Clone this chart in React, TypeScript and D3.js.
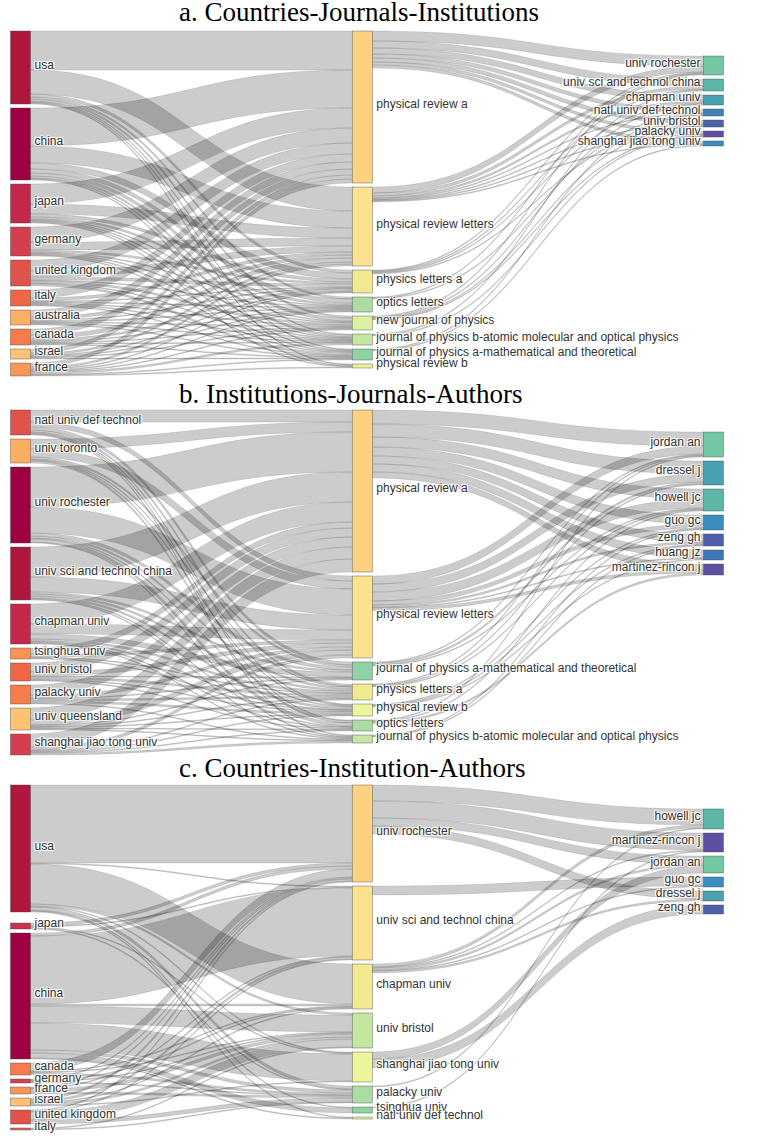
import React from "react";
import * as d3 from "d3";

// ---------------- Panel a: Countries - Journals - Institutions ----------------
const A_COUNTRIES = ["usa", "china", "japan", "germany", "united kingdom", "italy", "australia", "canada", "israel", "france"];
const A_JOURNALS = [
  "physical review a",
  "physical review letters",
  "physics letters a",
  "optics letters",
  "new journal of physics",
  "journal of physics b-atomic molecular and optical physics",
  "journal of physics a-mathematical and theoretical",
  "physical review b",
];
const A_INSTITUTIONS = ["univ rochester", "univ sci and technol china", "chapman univ", "natl univ def technol", "univ bristol", "palacky univ", "shanghai jiao tong univ"];
// rows: countries, cols: journals
const A_COUNTRY_JOURNAL = [
  [39, 24, 3, 2, 2, 1, 1, 1],
  [38, 17, 6, 4, 3, 2, 1, 1],
  [20, 10, 3, 2, 1, 1, 1, 1],
  [15, 8, 2, 1, 1, 1, 1, 0],
  [11, 6, 3, 1, 2, 1, 2, 0],
  [8, 3, 1, 1, 1, 1, 1, 0],
  [7, 3, 1, 1, 1, 1, 1, 0],
  [6, 4, 2, 1, 1, 1, 1, 0],
  [4, 2, 1, 1, 1, 0, 1, 0],
  [4, 2, 1, 1, 1, 2, 1, 1],
];
// rows: journals, cols: institutions
const A_JOURNAL_INST = [
  [10, 7, 6, 4, 4, 3, 3],
  [6, 3, 2, 1, 1, 1, 1],
  [1, 1, 1, 0, 1, 0, 0],
  [1, 0, 0, 1, 0, 0, 0],
  [1, 0, 1, 0, 1, 1, 0],
  [0, 1, 0, 0, 0, 1, 0],
  [0, 0, 0, 1, 0, 0, 1],
  [0, 0, 0, 0, 0, 0, 0],
];

// ---------------- Panel b: Institutions - Journals - Authors ----------------
const B_INSTITUTIONS = ["natl univ def technol", "univ toronto", "univ rochester", "univ sci and technol china", "chapman univ", "tsinghua univ", "univ bristol", "palacky univ", "univ queensland", "shanghai jiao tong univ"];
const B_JOURNALS = [
  "physical review a",
  "physical review letters",
  "journal of physics a-mathematical and theoretical",
  "physics letters a",
  "physical review b",
  "optics letters",
  "journal of physics b-atomic molecular and optical physics",
];
const B_AUTHORS = ["jordan an", "dressel j", "howell jc", "guo gc", "zeng gh", "huang jz", "martinez-rincon j"];
const B_INST_JOURNAL = [
  [12, 5, 3, 2, 1, 1, 1],
  [10, 8, 2, 1, 1, 2, 0],
  [40, 26, 3, 2, 1, 3, 1],
  [30, 15, 2, 2, 2, 1, 1],
  [20, 10, 5, 2, 1, 1, 1],
  [6, 3, 0, 1, 1, 0, 0],
  [9, 4, 1, 2, 1, 1, 0],
  [10, 3, 1, 2, 2, 0, 1],
  [12, 5, 1, 1, 1, 1, 1],
  [13, 3, 0, 1, 1, 1, 2],
];
const B_JOURNAL_AUTHOR = [
  [14, 13, 10, 9, 8, 8, 6],
  [8, 8, 9, 4, 2, 1, 3],
  [1, 2, 1, 0, 0, 0, 0],
  [1, 1, 1, 0, 0, 0, 0],
  [0, 0, 0, 1, 1, 1, 0],
  [1, 0, 1, 0, 0, 0, 2],
  [0, 0, 0, 1, 1, 0, 0],
];

// ---------------- Panel c: Countries - Institution - Authors ----------------
const C_COUNTRIES = ["usa", "japan", "china", "canada", "germany", "france", "israel", "united kingdom", "italy"];
const C_INSTITUTIONS = ["univ rochester", "univ sci and technol china", "chapman univ", "univ bristol", "shanghai jiao tong univ", "palacky univ", "tsinghua univ", "natl univ def technol"];
const C_AUTHORS = ["howell jc", "martinez-rincon j", "jordan an", "guo gc", "dressel j", "zeng gh"];
const C_COUNTRY_INST = [
  [78, 1, 40, 2, 1, 3, 1, 1],
  [3, 1, 0, 0, 1, 1, 0, 0],
  [3, 68, 2, 17, 27, 3, 5, 1],
  [8, 0, 1, 1, 0, 2, 0, 0],
  [1, 0, 1, 1, 0, 1, 0, 0],
  [1, 1, 0, 3, 0, 2, 0, 0],
  [2, 2, 1, 2, 1, 0, 0, 0],
  [1, 1, 0, 8, 0, 4, 0, 0],
  [0, 0, 0, 1, 0, 1, 0, 0],
];
const C_INST_AUTHOR = [
  [16, 17, 8, 0, 8, 0],
  [0, 0, 0, 9, 0, 0],
  [3, 1, 2, 1, 2, 0],
  [0, 0, 0, 0, 0, 0],
  [0, 0, 7, 0, 0, 9],
  [1, 0, 0, 0, 0, 0],
  [0, 1, 0, 0, 0, 0],
  [0, 0, 0, 0, 0, 0],
];

// ---------------- Colours ----------------
const A_COUNTRY_COLORS = ["#b0173f", "#9e0142", "#c3284a", "#d53e4f", "#e0524a", "#f06645", "#fdb062", "#f67c4a", "#fdc374", "#f99757"];
const A_JOURNAL_COLORS = ["#fdd17e", "#fae28f", "#f1e98e", "#aadca4", "#dcf09d", "#c4e7a0", "#8fd2a4", "#ecf39a"];
const A_INST_COLORS = ["#74c7a4", "#5db7a9", "#48a0b2", "#3e7fb8", "#4b63aa", "#5e4fa2", "#3a8fba"];
const B_INST_COLORS = ["#e0524a", "#fdae61", "#9e0142", "#b0173f", "#c3284a", "#f99456", "#ef6646", "#f67c4a", "#fdc273", "#d53e4f"];
const B_JOURNAL_COLORS = ["#fdd17e", "#fae28f", "#8fd2a4", "#f1e98e", "#ecf59a", "#aadca4", "#c4e7a0"];
const B_AUTHOR_COLORS = ["#74c7a4", "#48a0b2", "#5db7a9", "#3990c0", "#4e5ea8", "#3c78b8", "#5e4fa2"];
const C_COUNTRY_COLORS = ["#b0173f", "#cb334c", "#9e0142", "#f67c4a", "#d83f4e", "#f99456", "#fdbf71", "#e0524a", "#e8624c"];
const C_INST_COLORS = ["#fdd17e", "#fae28f", "#f1e98e", "#c4e7a0", "#ecf59a", "#aadca4", "#8fd2a4", "#ecf59a"];
const C_AUTHOR_COLORS = ["#5db7a9", "#5e4fa2", "#74c7a4", "#3990c0", "#48a0b2", "#4e5ea8"];

// ---------------- Panel definitions ----------------
type PanelDef = {
  title: string;
  columns: string[][];
  colors: string[][];
  matrices: number[][][];
  top: number;
  titleY: number;
  colOffsets: number[];
  extraGap: Record<string, number>;
};

const PANELS: PanelDef[] = [
  {
    title: "a. Countries-Journals-Institutions",
    columns: [A_COUNTRIES, A_JOURNALS, A_INSTITUTIONS],
    colors: [A_COUNTRY_COLORS, A_JOURNAL_COLORS, A_INST_COLORS],
    matrices: [A_COUNTRY_JOURNAL, A_JOURNAL_INST],
    top: 31,
    titleY: 21,
    colOffsets: [0, 0, 25],
    extraGap: {},
  },
  {
    title: "b. Institutions-Journals-Authors",
    columns: [B_INSTITUTIONS, B_JOURNALS, B_AUTHORS],
    colors: [B_INST_COLORS, B_JOURNAL_COLORS, B_AUTHOR_COLORS],
    matrices: [B_INST_JOURNAL, B_JOURNAL_AUTHOR],
    top: 410,
    titleY: 403,
    colOffsets: [0, 0, 22],
    extraGap: {},
  },
  {
    title: "c. Countries-Institution-Authors",
    columns: [C_COUNTRIES, C_INSTITUTIONS, C_AUTHORS],
    colors: [C_COUNTRY_COLORS, C_INST_COLORS, C_AUTHOR_COLORS],
    matrices: [C_COUNTRY_INST, C_INST_AUTHOR],
    top: 785,
    titleY: 777,
    colOffsets: [0, 0, 24],
    extraGap: { "0:usa": 7 },
  },
];

const PANEL_HEIGHT = 345;
const NODE_PAD = 4;
const NODE_WIDTH = 20;
const COLUMN_X = [10.5, 352.3, 703.5];

type N = {
  name: string;
  ci: number;
  color: string;
  inV: number;
  outV: number;
  value: number;
  x0: number;
  x1: number;
  y0: number;
  y1: number;
  outs: L[];
  ins: L[];
};
type L = { s: N; t: N; v: number; w: number; sy: number; ty: number };

function computeLayout(p: PanelDef) {
  const cols: N[][] = p.columns.map((names, ci) =>
    names.map((name, i) => ({
      name,
      ci,
      color: p.colors[ci][i],
      inV: 0,
      outV: 0,
      value: 0,
      x0: 0,
      x1: 0,
      y0: 0,
      y1: 0,
      outs: [],
      ins: [],
    }))
  );
  const links: L[] = [];
  p.matrices.forEach((m, ci) =>
    m.forEach((row, si) =>
      row.forEach((v, ti) => {
        if (v <= 0) return;
        const s = cols[ci][si];
        const t = cols[ci + 1][ti];
        const l: L = { s, t, v, w: 0, sy: 0, ty: 0 };
        links.push(l);
        s.outs.push(l);
        t.ins.push(l);
        s.outV += v;
        t.inV += v;
      })
    )
  );
  cols.forEach((c) => c.forEach((n) => (n.value = Math.max(n.inV, n.outV))));
  const extra = (ci: number) => d3.sum(cols[ci], (n) => p.extraGap[`${ci}:${n.name}`] || 0);
  const ky = d3.min(cols, (c, ci) => (PANEL_HEIGHT - NODE_PAD * (c.length - 1) - extra(ci)) / d3.sum(c, (n) => n.value)) as number;
  const yScale = d3.scaleLinear().domain([0, 1]).range([0, ky]);
  const xScale = d3.scaleLinear().domain([0, 1, 2]).range(COLUMN_X);
  cols.forEach((c, ci) => {
    let y = p.top + p.colOffsets[ci];
    c.forEach((n) => {
      n.x0 = xScale(ci);
      n.x1 = n.x0 + NODE_WIDTH;
      n.y0 = y;
      n.y1 = y + yScale(n.value);
      y = n.y1 + NODE_PAD + (p.extraGap[`${ci}:${n.name}`] || 0);
    });
  });
  links.forEach((l) => (l.w = yScale(l.v)));
  cols.flat().forEach((n) => {
    n.outs.sort((a, b) => a.t.y0 - b.t.y0);
    n.ins.sort((a, b) => a.s.y0 - b.s.y0);
    let y = n.y0;
    n.outs.forEach((l) => {
      l.sy = y;
      y += l.w;
    });
    y = n.y0;
    n.ins.forEach((l) => {
      l.ty = y;
      y += l.w;
    });
  });
  return { cols, links };
}

function linkPath(l: L) {
  const x0 = l.s.x1;
  const x1 = l.t.x0;
  const xi = d3.interpolateNumber(x0, x1);
  const xa = xi(0.5);
  const xb = xi(0.5);
  const p = d3.path();
  p.moveTo(x0, l.sy);
  p.bezierCurveTo(xa, l.sy, xb, l.ty, x1, l.ty);
  p.lineTo(x1, l.ty + l.w);
  p.bezierCurveTo(xb, l.ty + l.w, xa, l.sy + l.w, x0, l.sy + l.w);
  p.closePath();
  return p.toString();
}

const LABEL_FONT = '"Liberation Sans", Arial, sans-serif';
const SHADOW = "1px 1px 1px #fff, -1px -1px 1px #fff, 1px -1px 1px #fff, -1px 1px 1px #fff";

function Panel({ def }: { def: PanelDef }) {
  const { cols, links } = computeLayout(def);
  const last = cols.length - 1;
  return (
    <g>
      <text x={179} y={def.titleY} fontFamily='"Liberation Serif", "Times New Roman", serif' fontSize={27} fill="#000">
        {def.title}
      </text>
      <g>
        {links.map((l, i) => (
          <path key={i} d={linkPath(l)} fill="rgba(0,0,0,0.2)" stroke="rgba(0,0,0,0.2)" strokeWidth={0.5} />
        ))}
      </g>
      <g>
        {cols.flat().map((n, i) => (
          <rect key={i} x={n.x0} y={n.y0} width={n.x1 - n.x0} height={Math.max(0.5, n.y1 - n.y0)} fill={n.color} stroke="#444" strokeWidth={0.5} strokeOpacity={0.8} />
        ))}
      </g>
      <g>
        {cols.flat().map((n, i) => (
          <text
            key={i}
            x={n.ci === last ? n.x0 - 3 : n.x1 + 4}
            y={(n.y0 + n.y1) / 2}
            dy={1}
            textAnchor={n.ci === last ? "end" : "start"}
            fontFamily={LABEL_FONT}
            fontSize={12}
            fill="#333"
            style={{ textShadow: SHADOW }}
          >
            {n.name}
          </text>
        ))}
      </g>
    </g>
  );
}

export default function App() {
  return (
    <svg width={784} height={1142} style={{ position: "absolute", left: 0, top: 0, background: "#fff" }}>
      <rect width={784} height={1142} fill="#fff" />
      {PANELS.map((p, i) => (
        <Panel key={i} def={p} />
      ))}
    </svg>
  );
}
